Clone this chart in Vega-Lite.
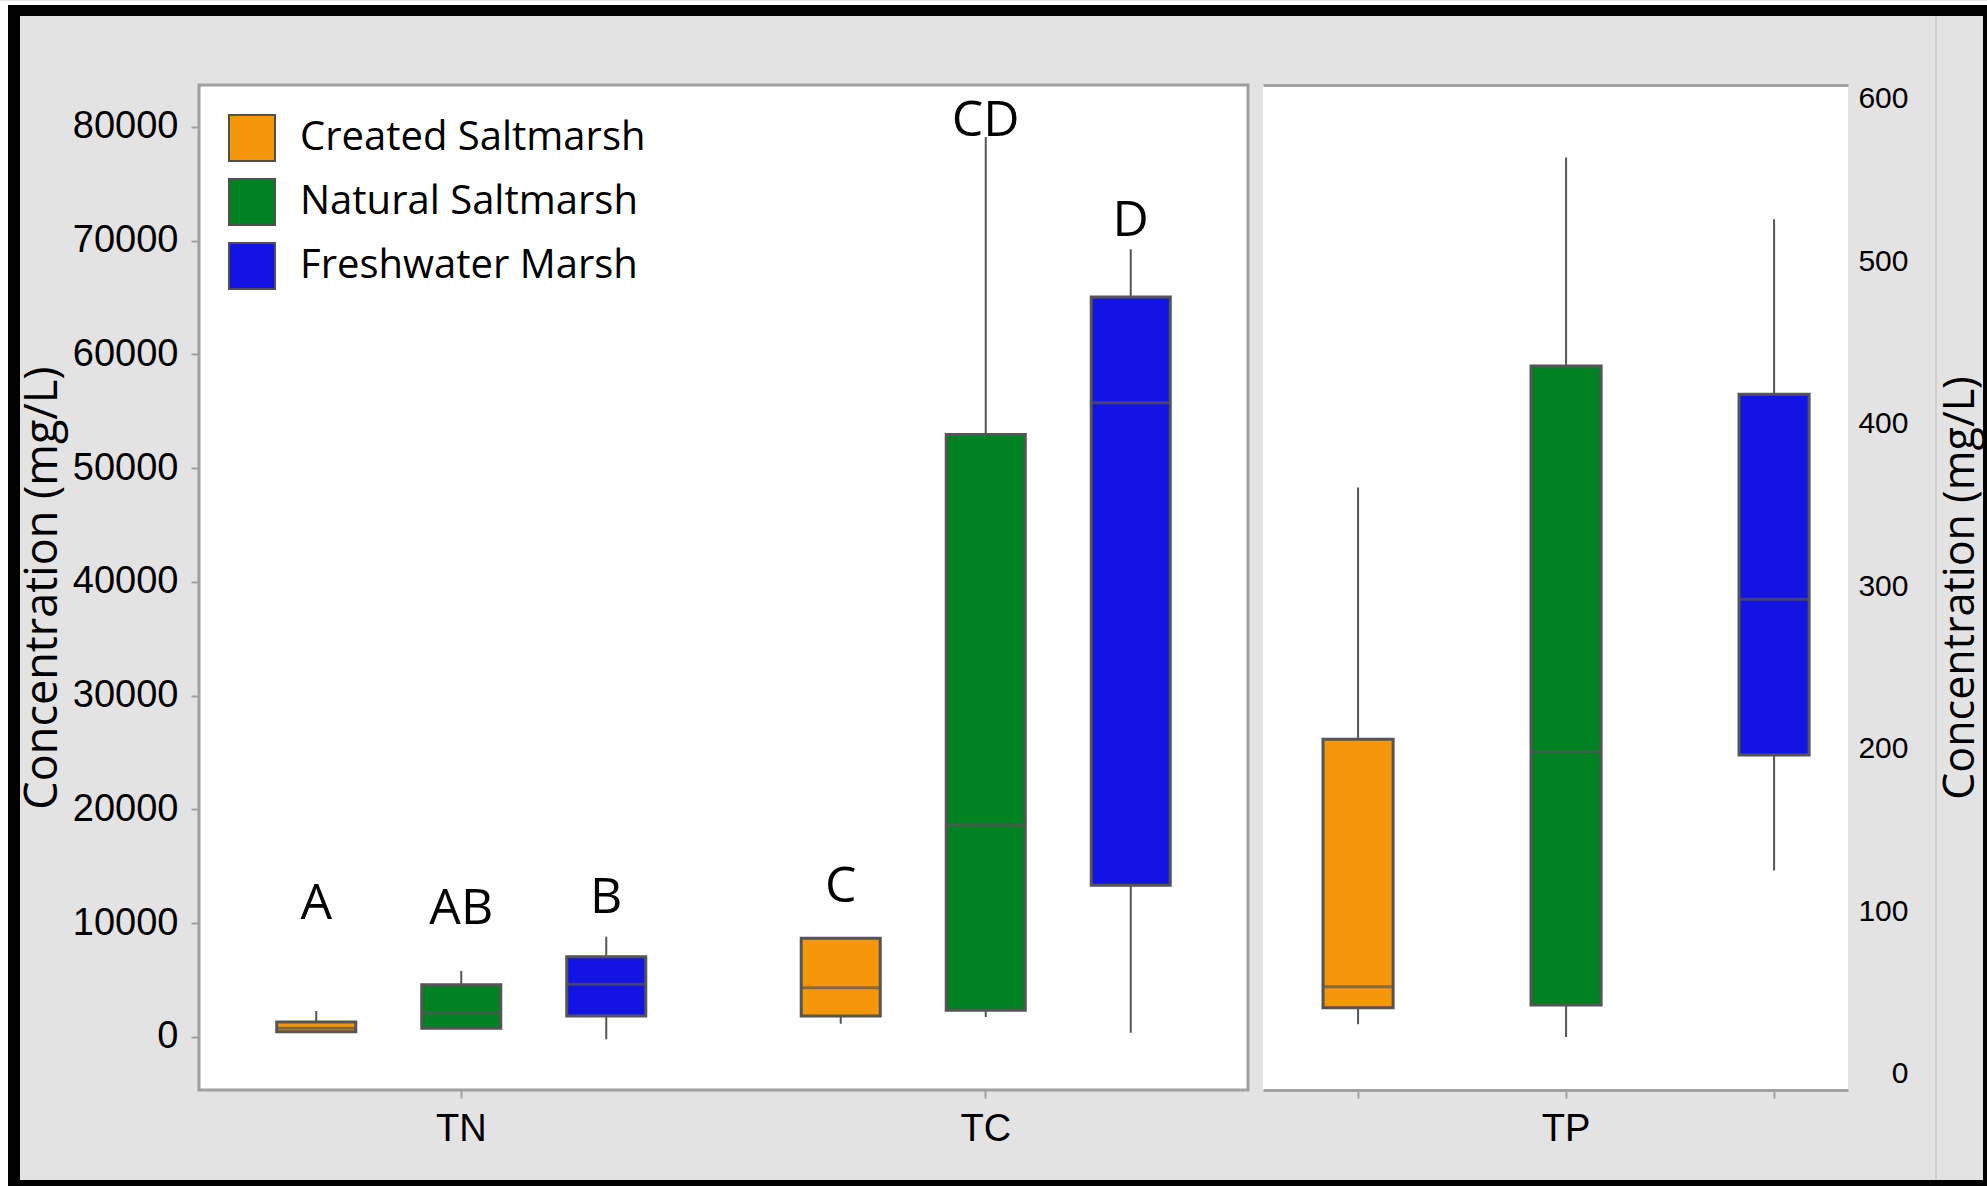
{
"$schema": "https://vega.github.io/schema/vega-lite/v6.json",
"background": "#e3e3e3",
"padding": 0,
"spacing": 0,
"bounds": "flush",
"columns": 10,
"resolve": {"scale": {"color": "independent"}, "legend": {"color": "independent"}},
"config": {"view": {"stroke": null}, "axis": {"grid": false, "labelColor": "black", "titleColor": "black"}, "font": "Open Sans"},
"datasets": {
"left": [
{"variable":"TN","group":"Created Saltmarsh","low":466,"q1":466,"median":765,"q3":1319,"high":2286,"letter":"A","label_at":10347},
{"variable":"TN","group":"Natural Saltmarsh","low":765,"q1":765,"median":2140,"q3":4600,"high":5800,"letter":"AB","label_at":9960},
{"variable":"TN","group":"Freshwater Marsh","low":-205,"q1":1850,"median":4630,"q3":7060,"high":8820,"letter":"B","label_at":10870},
{"variable":"TC","group":"Created Saltmarsh","low":1170,"q1":1846,"median":4335,"q3":8675,"high":8675,"letter":"C","label_at":11895},
{"variable":"TC","group":"Natural Saltmarsh","low":1758,"q1":2345,"median":18610,"q3":52975,"high":79120,"letter":"CD","label_at":79210},
{"variable":"TC","group":"Freshwater Marsh","low":380,"q1":13335,"median":55760,"q3":65055,"high":69246,"letter":"D","label_at":70420}
],
"right": [
{"group":"Created Saltmarsh","low":30.6,"q1":40.8,"median":53.7,"q3":206,"high":360.9},
{"group":"Natural Saltmarsh","low":22.8,"q1":42.5,"median":198.3,"q3":435.7,"high":564},
{"group":"Freshwater Marsh","low":125.3,"q1":196.3,"median":292.2,"q3":418.3,"high":526}
]
},
"concat": [
{"width":8,"height":4,"data":{"values":[{}]},"mark":{"type":"point","opacity":0},"encoding":{},"view":{"fill":"#ffffff","stroke":null}},
{"width":12,"height":4,"data":{"values":[{}]},"mark":{"type":"point","opacity":0},"encoding":{},"view":{"fill":"#ffffff","stroke":null}},
{"width":179,"height":4,"data":{"values":[{}]},"mark":{"type":"point","opacity":0},"encoding":{},"view":{"fill":"#ffffff","stroke":null}},
{"width":1049,"height":4,"data":{"values":[{}]},"mark":{"type":"point","opacity":0},"encoding":{},"view":{"fill":"#ffffff","stroke":null}},
{"width":15,"height":4,"data":{"values":[{}]},"mark":{"type":"point","opacity":0},"encoding":{},"view":{"fill":"#ffffff","stroke":null}},
{"width":585,"height":4,"data":{"values":[{}]},"mark":{"type":"point","opacity":0},"encoding":{},"view":{"fill":"#ffffff","stroke":null}},
{"width":87,"height":4,"data":{"values":[{}]},"mark":{"type":"point","opacity":0},"encoding":{},"view":{"fill":"#ffffff","stroke":null}},
{"width":2,"height":4,"data":{"values":[{}]},"mark":{"type":"point","opacity":0},"encoding":{},"view":{"fill":"#ffffff","stroke":null}},
{"width":46,"height":4,"data":{"values":[{}]},"mark":{"type":"point","opacity":0},"encoding":{},"view":{"fill":"#ffffff","stroke":null}},
{"width":4,"height":4,"data":{"values":[{}]},"mark":{"type":"point","opacity":0},"encoding":{},"view":{"fill":"#ffffff","stroke":null}},

{"width":8,"height":11,"data":{"values":[{}]},"mark":{"type":"point","opacity":0},"encoding":{},"view":{"fill":"#ffffff","stroke":null}},
{"width":12,"height":11,"data":{"values":[{}]},"mark":{"type":"point","opacity":0},"encoding":{},"view":{"fill":"#000000","stroke":null}},
{"width":179,"height":11,"data":{"values":[{}]},"mark":{"type":"point","opacity":0},"encoding":{},"view":{"fill":"#000000","stroke":null}},
{"width":1049,"height":11,"data":{"values":[{}]},"mark":{"type":"point","opacity":0},"encoding":{},"view":{"fill":"#000000","stroke":null}},
{"width":15,"height":11,"data":{"values":[{}]},"mark":{"type":"point","opacity":0},"encoding":{},"view":{"fill":"#000000","stroke":null}},
{"width":585,"height":11,"data":{"values":[{}]},"mark":{"type":"point","opacity":0},"encoding":{},"view":{"fill":"#000000","stroke":null}},
{"width":87,"height":11,"data":{"values":[{}]},"mark":{"type":"point","opacity":0},"encoding":{},"view":{"fill":"#000000","stroke":null}},
{"width":2,"height":11,"data":{"values":[{}]},"mark":{"type":"point","opacity":0},"encoding":{},"view":{"fill":"#000000","stroke":null}},
{"width":46,"height":11,"data":{"values":[{}]},"mark":{"type":"point","opacity":0},"encoding":{},"view":{"fill":"#000000","stroke":null}},
{"width":4,"height":11,"data":{"values":[{}]},"mark":{"type":"point","opacity":0},"encoding":{},"view":{"fill":"#000000","stroke":null}},

{"width":8,"height":69,"data":{"values":[{}]},"mark":{"type":"point","opacity":0},"encoding":{},"view":{"fill":"#ffffff","stroke":null}},
{"width":12,"height":69,"data":{"values":[{}]},"mark":{"type":"point","opacity":0},"encoding":{},"view":{"fill":"#000000","stroke":null}},
{"width":179,"height":69,"data":{"values":[{}]},"mark":{"type":"point","opacity":0},"encoding":{},"view":{"stroke":null}},
{"width":1049,"height":69,"data":{"values":[{}]},"mark":{"type":"point","opacity":0},"encoding":{},"view":{"stroke":null}},
{"width":15,"height":69,"data":{"values":[{}]},"mark":{"type":"point","opacity":0},"encoding":{},"view":{"stroke":null}},
{"width":585,"height":69,"data":{"values":[{}]},"mark":{"type":"point","opacity":0},"encoding":{},"view":{"stroke":null}},
{"width":87,"height":69,"data":{"values":[{}]},"mark":{"type":"point","opacity":0},"encoding":{},"view":{"stroke":null}},
{"width":2,"height":69,"data":{"values":[{}]},"mark":{"type":"point","opacity":0},"encoding":{},"view":{"fill":"#cfcfcf","stroke":null}},
{"width":46,"height":69,"data":{"values":[{}]},"mark":{"type":"point","opacity":0},"encoding":{},"view":{"stroke":null}},
{"width":4,"height":69,"data":{"values":[{}]},"mark":{"type":"point","opacity":0},"encoding":{},"view":{"fill":"#000000","stroke":null}},

{"width":8,"height":1005,"data":{"values":[{}]},"mark":{"type":"point","opacity":0},"encoding":{},"view":{"fill":"#ffffff","stroke":null}},
{"width":12,"height":1005,"data":{"values":[{}]},"mark":{"type":"point","opacity":0},"encoding":{},"view":{"fill":"#000000","stroke":null}},
{"width":179,"height":1005,"data":{"values":[{}]},"mark":{"type":"point","opacity":0},"encoding":{},"view":{"stroke":null}},
{
 "width": 1049, "height": 1005,
 "data": {"name": "left"},
 "view": {"fill": "#ffffff", "stroke": "#a0a0a0", "strokeWidth": 3},
 "encoding": {
  "x": {"field": "variable", "type": "nominal", "sort": ["TN", "TC"], "scale": {"paddingInner": 0, "paddingOuter": 0},
        "axis": {"title": null, "domain": false, "ticks": true, "tickColor": "#a0a0a0", "tickSize": 8, "tickWidth": 2, "labelFont": "Liberation Sans", "labelFontSize": 38, "labelPadding": 12, "labelAngle": 0}},
  "xOffset": {"field": "group", "type": "nominal", "sort": ["Created Saltmarsh", "Natural Saltmarsh", "Freshwater Marsh"], "scale": {"paddingInner": 0.455, "paddingOuter": 0.536}}
 },
 "layer": [
  {"mark": {"type": "rule", "color": "#555555", "strokeWidth": 2},
   "encoding": {
    "y": {"field": "low", "type": "quantitative", "title": "Concentration (mg/L)", "scale": {"domain": [-4660, 83691], "nice": false, "zero": false},
          "axis": {"orient": "left", "values": [0, 10000, 20000, 30000, 40000, 50000, 60000, 70000, 80000], "format": "d", "domain": false, "ticks": true, "tickColor": "#a0a0a0", "tickSize": 8, "tickWidth": 2, "labelFont": "Liberation Sans", "labelFontSize": 38, "labelPadding": 13, "titleFont": "Open Sans", "titleFontSize": 45, "titleFontWeight": "normal", "titleAngle": 270, "titleBaseline": "middle", "titleX": -157}},
    "y2": {"field": "high"}}},
  {"mark": {"type": "bar", "stroke": "#555555", "strokeWidth": 3},
   "encoding": {
    "y": {"field": "q1", "type": "quantitative", "title": "Concentration (mg/L)"},
    "y2": {"field": "q3"},
    "color": {"field": "group", "type": "nominal",
      "scale": {"domain": ["Created Saltmarsh", "Natural Saltmarsh", "Freshwater Marsh"], "range": ["#f4970a", "#008122", "#1313e3"]},
      "legend": {"orient": "top-left", "title": null, "symbolType": "square", "symbolSize": 2116, "symbolStrokeColor": "#505050", "symbolStrokeWidth": 2, "symbolOpacity": 1, "labelFont": "Open Sans", "labelFontSize": 40, "labelColor": "black", "labelOffset": 24, "rowPadding": 10, "offset": 29, "padding": 0, "labelLimit": 600}}}},
  {"mark": {"type": "tick", "color": "#555555", "thickness": 3, "size": 79},
   "encoding": {"y": {"field": "median", "type": "quantitative", "title": "Concentration (mg/L)"}}},
  {"mark": {"type": "text", "font": "Open Sans", "fontSize": 50, "baseline": "alphabetic", "align": "center", "color": "#000000"},
   "encoding": {"y": {"field": "label_at", "type": "quantitative", "title": "Concentration (mg/L)"}, "text": {"field": "letter"}}}
 ]
},
{"width":15,"height":1005,"data":{"values":[{}]},"mark":{"type":"point","opacity":0},"encoding":{},"view":{"stroke":null}},
{
 "width": 585, "height": 1005,
 "data": {"name": "right"},
 "view": {"fill": "#ffffff", "stroke": null},
 "resolve": {"axis": {"x": "independent"}},
 "layer": [
  {"mark": {"type": "rule", "color": "#555555", "strokeWidth": 2},
   "encoding": {
    "x": {"field": "group", "type": "nominal", "sort": ["Created Saltmarsh", "Natural Saltmarsh", "Freshwater Marsh"], "scale": {"paddingInner": 0.663, "paddingOuter": 0.2377, "align": 0.607},
          "axis": {"title": null, "domain": true, "domainColor": "#a0a0a0", "domainWidth": 3, "ticks": true, "tickColor": "#a0a0a0", "tickSize": 8, "tickWidth": 2, "labelFont": "Liberation Sans", "labelFontSize": 38, "labelPadding": 12, "labelAngle": 0, "labelExpr": "datum.value == 'Natural Saltmarsh' ? 'TP' : ''"}},
    "y": {"field": "low", "type": "quantitative", "title": "Concentration (mg/L)", "scale": {"domain": [-9.85, 608.6], "nice": false, "zero": false},
          "axis": {"orient": "right", "values": [0, 100, 200, 300, 400, 500, 600], "domain": false, "ticks": true, "tickSize": 0, "tickOpacity": 0, "labelFont": "Liberation Sans", "labelFontSize": 30, "labelAlign": "right", "labelPadding": 60, "titleFont": "Open Sans", "titleFontSize": 43, "titleFontWeight": "normal", "titleAngle": 270, "titleBaseline": "middle", "titleX": 112}},
    "y2": {"field": "high"}}},
  {"mark": {"type": "bar", "stroke": "#555555", "strokeWidth": 3},
   "encoding": {
    "x": {"field": "group", "type": "nominal", "sort": ["Created Saltmarsh", "Natural Saltmarsh", "Freshwater Marsh"],
          "axis": {"orient": "top", "title": null, "labels": false, "ticks": false, "domain": true, "domainColor": "#a0a0a0", "domainWidth": 3}},
    "y": {"field": "q1", "type": "quantitative", "title": "Concentration (mg/L)"},
    "y2": {"field": "q3"},
    "color": {"field": "group", "type": "nominal",
      "scale": {"domain": ["Created Saltmarsh", "Natural Saltmarsh", "Freshwater Marsh"], "range": ["#f4970a", "#008122", "#1313e3"]},
      "legend": null}}},
  {"mark": {"type": "tick", "color": "#555555", "thickness": 3, "size": 70},
   "encoding": {
    "x": {"field": "group", "type": "nominal", "sort": ["Created Saltmarsh", "Natural Saltmarsh", "Freshwater Marsh"], "axis": null},
    "y": {"field": "median", "type": "quantitative", "title": "Concentration (mg/L)"}}}
 ]
},
{"width":87,"height":1005,"data":{"values":[{}]},"mark":{"type":"point","opacity":0},"encoding":{},"view":{"stroke":null}},
{"width":2,"height":1005,"data":{"values":[{}]},"mark":{"type":"point","opacity":0},"encoding":{},"view":{"fill":"#cfcfcf","stroke":null}},
{"width":46,"height":1005,"data":{"values":[{}]},"mark":{"type":"point","opacity":0},"encoding":{},"view":{"stroke":null}},
{"width":4,"height":1005,"data":{"values":[{}]},"mark":{"type":"point","opacity":0},"encoding":{},"view":{"fill":"#000000","stroke":null}},

{"width":8,"height":90,"data":{"values":[{}]},"mark":{"type":"point","opacity":0},"encoding":{},"view":{"fill":"#ffffff","stroke":null}},
{"width":12,"height":90,"data":{"values":[{}]},"mark":{"type":"point","opacity":0},"encoding":{},"view":{"fill":"#000000","stroke":null}},
{"width":179,"height":90,"data":{"values":[{}]},"mark":{"type":"point","opacity":0},"encoding":{},"view":{"stroke":null}},
{"width":1049,"height":90,"data":{"values":[{}]},"mark":{"type":"point","opacity":0},"encoding":{},"view":{"stroke":null}},
{"width":15,"height":90,"data":{"values":[{}]},"mark":{"type":"point","opacity":0},"encoding":{},"view":{"stroke":null}},
{"width":585,"height":90,"data":{"values":[{}]},"mark":{"type":"point","opacity":0},"encoding":{},"view":{"stroke":null}},
{"width":87,"height":90,"data":{"values":[{}]},"mark":{"type":"point","opacity":0},"encoding":{},"view":{"stroke":null}},
{"width":2,"height":90,"data":{"values":[{}]},"mark":{"type":"point","opacity":0},"encoding":{},"view":{"fill":"#cfcfcf","stroke":null}},
{"width":46,"height":90,"data":{"values":[{}]},"mark":{"type":"point","opacity":0},"encoding":{},"view":{"stroke":null}},
{"width":4,"height":90,"data":{"values":[{}]},"mark":{"type":"point","opacity":0},"encoding":{},"view":{"fill":"#000000","stroke":null}},

{"width":8,"height":7,"data":{"values":[{}]},"mark":{"type":"point","opacity":0},"encoding":{},"view":{"fill":"#ffffff","stroke":null}},
{"width":12,"height":7,"data":{"values":[{}]},"mark":{"type":"point","opacity":0},"encoding":{},"view":{"fill":"#000000","stroke":null}},
{"width":179,"height":7,"data":{"values":[{}]},"mark":{"type":"point","opacity":0},"encoding":{},"view":{"fill":"#000000","stroke":null}},
{"width":1049,"height":7,"data":{"values":[{}]},"mark":{"type":"point","opacity":0},"encoding":{},"view":{"fill":"#000000","stroke":null}},
{"width":15,"height":7,"data":{"values":[{}]},"mark":{"type":"point","opacity":0},"encoding":{},"view":{"fill":"#000000","stroke":null}},
{"width":585,"height":7,"data":{"values":[{}]},"mark":{"type":"point","opacity":0},"encoding":{},"view":{"fill":"#000000","stroke":null}},
{"width":87,"height":7,"data":{"values":[{}]},"mark":{"type":"point","opacity":0},"encoding":{},"view":{"fill":"#000000","stroke":null}},
{"width":2,"height":7,"data":{"values":[{}]},"mark":{"type":"point","opacity":0},"encoding":{},"view":{"fill":"#000000","stroke":null}},
{"width":46,"height":7,"data":{"values":[{}]},"mark":{"type":"point","opacity":0},"encoding":{},"view":{"fill":"#000000","stroke":null}},
{"width":4,"height":7,"data":{"values":[{}]},"mark":{"type":"point","opacity":0},"encoding":{},"view":{"fill":"#000000","stroke":null}}
]
}
